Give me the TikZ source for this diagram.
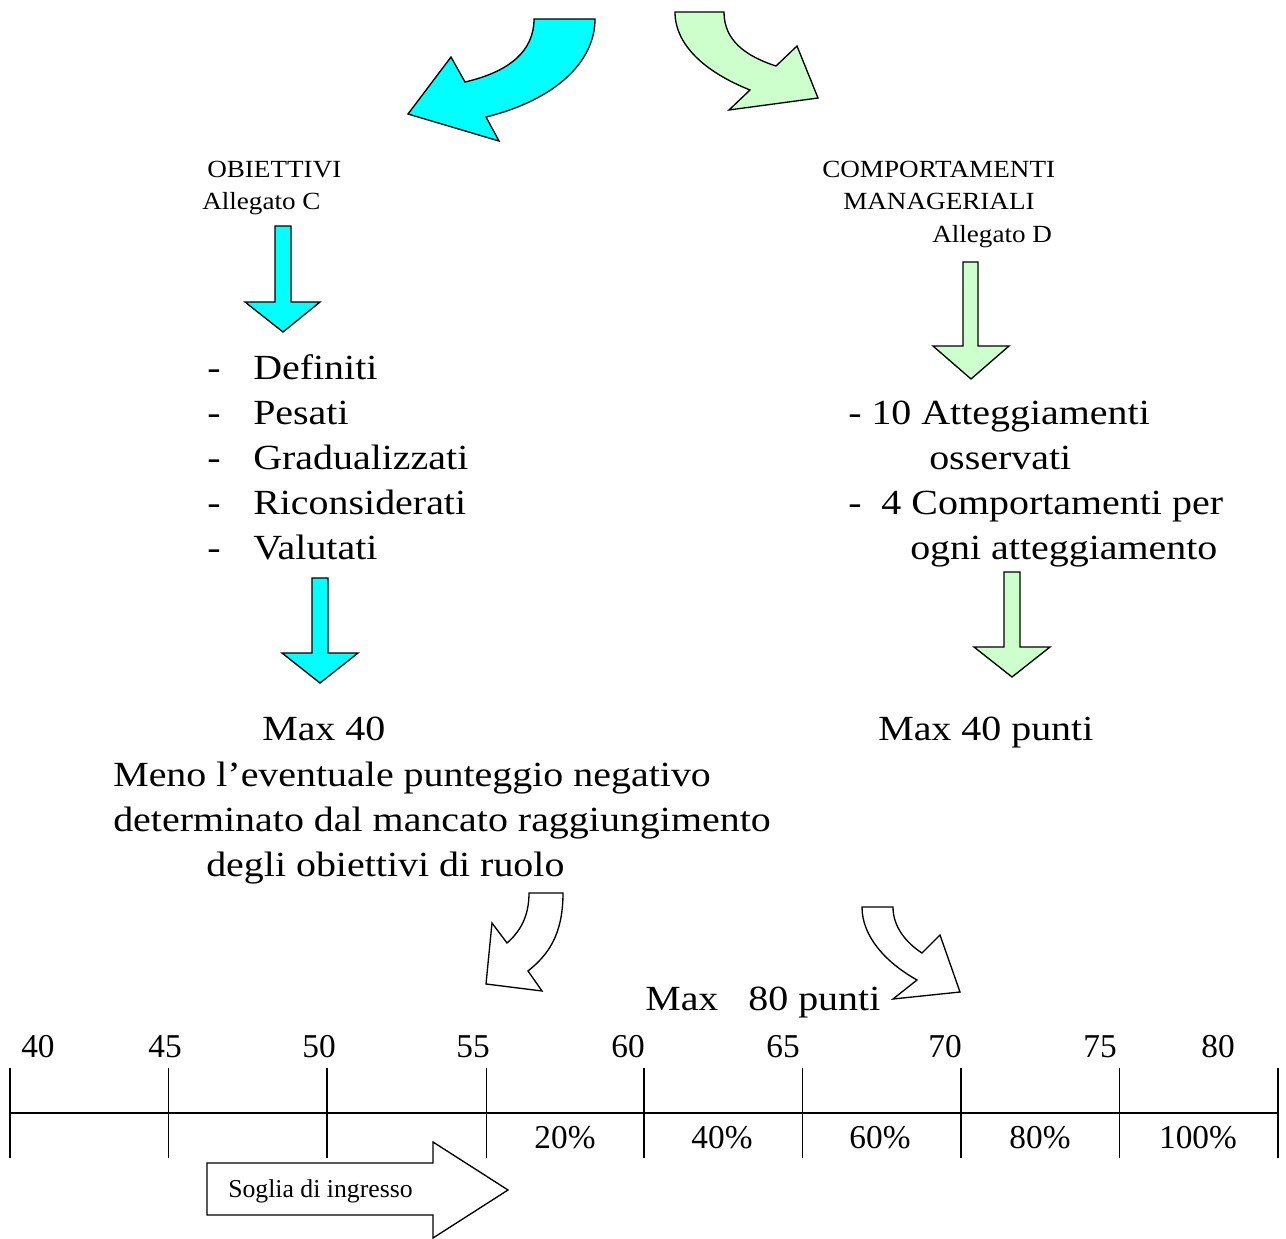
\documentclass[tikz,border=0pt]{standalone}
\usepackage{fontspec}
\setmainfont{Liberation Serif}
\newfontfamily\widefont[FakeStretch=1.13]{Liberation Serif}
\newfontfamily\smallwide[FakeStretch=1.1]{Liberation Serif}
\usetikzlibrary{positioning}

\definecolor{aqua}{HTML}{00FFFF}
\definecolor{mint}{HTML}{CCFFCC}

\begin{document}
\begin{tikzpicture}[x=0.75pt,y=-0.75pt,
  big/.style={font=\widefont\fontsize{26.5}{32}\selectfont,anchor=base west,inner sep=0pt},
  small/.style={font=\smallwide\fontsize{18.5}{22}\selectfont,anchor=base west,inner sep=0pt},
  scalelbl/.style={font=\fontsize{25}{30}\selectfont,anchor=base,inner sep=0pt},
  blockarrow/.style={draw,line width=1pt,line join=miter}]
\useasboundingbox (0,0) rectangle (1286,1239);

% curved arrows at the top
\draw[blockarrow,fill=aqua] (595,19) -- (534,19) .. controls (534,52) and (508,72) .. (465,82)
  -- (451,57) -- (408,114) -- (499,141) -- (486,117) .. controls (555,100) and (595,62) .. (595,19) -- cycle;
\draw[blockarrow,fill=mint] (675,12) -- (724,12) .. controls (724,40) and (745,56) .. (776,66)
  -- (797,46) -- (818,98) -- (729,110) -- (750,90) .. controls (705,72) and (675,45) .. (675,12) -- cycle;

% titles
\node[small] (obiettivi) at (207,177) {OBIETTIVI};
\node[small] (allc) at (202,209) {Allegato C};
\node[small] (compman) at (822,177) {COMPORTAMENTI};
\node[small] (manag) at (843,209) {MANAGERIALI};
\node[small] (alld) at (932,242) {Allegato D};

% straight arrows
\draw[blockarrow,fill=aqua] (275,226) -- (291,226) -- (291,302) -- (320,302) -- (283,332) -- (245,302) -- (275,302) -- cycle;
\draw[blockarrow,fill=mint] (963,262) -- (978,262) -- (978,346) -- (1009,346) -- (971,379) -- (933,346) -- (963,346) -- cycle;
\draw[blockarrow,fill=aqua] (312,578) -- (328,578) -- (328,653) -- (358,653) -- (320,683) -- (282,653) -- (312,653) -- cycle;
\draw[blockarrow,fill=mint] (1004,572) -- (1020,572) -- (1020,647) -- (1050,647) -- (1012,677) -- (974,647) -- (1004,647) -- cycle;

% lists
\foreach \w [count=\i from 0] in {Definiti,Pesati,Gradualizzati,Riconsiderati,Valutati} {
  \node[big] (dash\i) at (207,379+45*\i) {-};
  \node[big] (obj\i) at (253,379+45*\i) {\w};
}
\node[big] (att) at (848,424) {- 10 Atteggiamenti};
\node[big] (oss) at (929,469) {osservati};
\node[big] (comp) at (848,514) {-\ \ 4 Comportamenti per};
\node[big] (ogni) at (910,559) {ogni atteggiamento};

% scores
\node[big] (max40) at (262,740) {Max 40};
\node[big] (meno) at (113,786) {Meno l’eventuale punteggio negativo};
\node[big] (det) at (113,831) {determinato dal mancato raggiungimento};
\node[big] (degli) at (206,876) {degli obiettivi di ruolo};
\node[big] (max40p) at (878,740) {Max 40 punti};

% white curved arrows
\draw[blockarrow,fill=white] (529,893) -- (563,893) .. controls (563,935) and (548,955) .. (528,971)
  -- (542,991) -- (486,984) -- (492,923) -- (507,943) .. controls (522,930) and (529,914) .. (529,893) -- cycle;
\draw[blockarrow,fill=white] (862,907) -- (893,907) .. controls (893,926) and (905,942) .. (922,953)
  -- (940,935) -- (960,992) -- (893,999) -- (917,980) .. controls (885,962) and (862,936) .. (862,907) -- cycle;
\node[big] (max80) at (645,1010) {Max\ \ \ 80 punti};

% scale
\draw[line width=1.3pt] (10,1113) -- (1278,1113);
\foreach \i in {0,1,2,4,5,6,7,8}
  \draw[line width=1.3pt] (10+158.5*\i,1068) -- (10+158.5*\i,1158);
\draw[line width=0.6pt] (486,1068) -- (486,1158);
\foreach \x/\v in {38/40,165/45,319/50,473/55,628/60,783/65,945/70,1100/75,1218/80}
  \node[scalelbl] (n\v) at (\x,1057) {\v};
\foreach \x/\p in {565/20,722/40,880/60,1040/80,1198/100}
  \node[scalelbl] (p\p) at (\x,1148) {\p\%};

% threshold arrow
\draw[blockarrow] (207,1163) -- (433,1163) -- (433,1142) -- (508,1190) -- (433,1238) -- (433,1215) -- (207,1215) -- cycle;
\node[font=\fontsize{19.3}{23}\selectfont,anchor=base west,inner sep=0pt] (soglia) at (228,1197) {Soglia di ingresso};
\end{tikzpicture}
\end{document}
